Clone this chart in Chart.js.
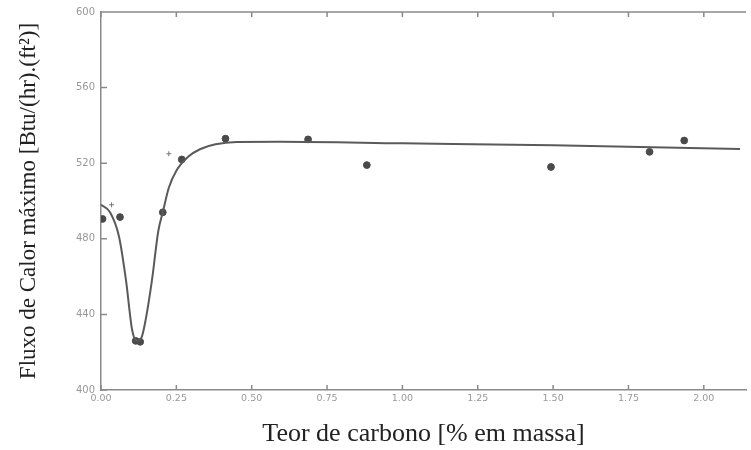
<!DOCTYPE html>
<html>
<head>
<meta charset="utf-8">
<script src="https://cdn.jsdelivr.net/npm/chart.js@4/dist/chart.umd.min.js"></script>
<style>
  html, body { margin: 0; padding: 0; background: #fff; }
  #wrap { width: 751px; height: 450px; }
</style>
</head>
<body>
<div id="wrap"><canvas id="chart" width="751" height="450"></canvas></div>
<script>
// pontos medidos (Teor de carbono, Fluxo de calor)
const pointX = [0.005, 0.063, 0.115, 0.13, 0.205, 0.268, 0.413, 0.687, 0.882, 1.493, 1.82, 1.935];
const pointY = [490.5, 491.5, 426, 425.5, 494, 522, 533, 532.6, 519, 518, 526, 532];

// pontos "+"
const crossX = [0.035, 0.225];
const crossY = [498, 525];

// curva ajustada
const curveX = [0.0, 0.03, 0.06, 0.083, 0.103, 0.119, 0.135, 0.148, 0.169, 0.19, 0.205, 0.225, 0.25, 0.29, 0.33, 0.38, 0.45, 0.6, 1.0, 1.5, 2.12];
const curveY = [498, 494, 481, 458, 432, 426, 428, 437, 458, 484, 494, 507, 516, 523.5, 527.5, 530, 531.2, 531.3, 530.5, 529.5, 527.5];

const xTicks = [0, 0.25, 0.5, 0.75, 1.0, 1.25, 1.5, 1.75, 2.0];
const yTicks = [400, 440, 480, 520, 560, 600];

const axisColor = '#8a8a8a';

// marcas de escala para dentro + borda superior
const innerTicks = {
  id: 'innerTicks',
  afterDraw(chart) {
    const ctx = chart.ctx;
    const x = chart.scales.x, y = chart.scales.y;
    const a = chart.chartArea;
    ctx.save();
    ctx.strokeStyle = axisColor;
    ctx.lineWidth = 1.5;
    ctx.beginPath();
    ctx.moveTo(a.left, a.top);
    ctx.lineTo(a.right, a.top);
    xTicks.forEach(v => {
      const px = x.getPixelForValue(v);
      ctx.moveTo(px, a.bottom);
      ctx.lineTo(px, a.bottom - 5);
      ctx.moveTo(px, a.top);
      ctx.lineTo(px, a.top + 5);
    });
    yTicks.forEach(v => {
      const py = y.getPixelForValue(v);
      ctx.moveTo(a.left, py);
      ctx.lineTo(a.left + 6, py);
    });
    ctx.stroke();
    ctx.restore();
  }
};

new Chart(document.getElementById('chart'), {
  type: 'scatter',
  data: {
    datasets: [
      {
        type: 'line',
        data: curveX.map((v, i) => ({ x: v, y: curveY[i] })),
        borderColor: '#5a5a5a',
        borderWidth: 2,
        pointRadius: 0,
        cubicInterpolationMode: 'monotone',
        fill: false
      },
      {
        data: pointX.map((v, i) => ({ x: v, y: pointY[i] })),
        backgroundColor: '#4a4a4a',
        borderColor: '#4a4a4a',
        pointRadius: 3.4
      },
      {
        data: crossX.map((v, i) => ({ x: v, y: crossY[i] })),
        pointStyle: 'cross',
        borderColor: '#777',
        borderWidth: 1,
        pointRadius: 2.5
      }
    ]
  },
  plugins: [innerTicks],
  options: {
    responsive: false,
    animation: false,
    layout: { padding: { top: 12, right: 1, left: 0, bottom: 0 } },
    plugins: { legend: { display: false }, tooltip: { enabled: false } },
    scales: {
      x: {
        type: 'linear',
        min: 0,
        max: 2.14,
        afterBuildTicks: s => { s.ticks = xTicks.map(v => ({ value: v })); },
        afterFit: s => { s.height = 60; },
        grid: { drawOnChartArea: false, drawTicks: false },
        border: { color: axisColor, width: 1.5 },
        ticks: {
          padding: 3,
          color: '#999',
          font: { family: 'DejaVu Sans', size: 9.5 },
          callback: v => v.toFixed(2)
        },
        title: {
          display: true,
          text: 'Teor de carbono [% em massa]',
          color: '#222',
          font: { family: 'Liberation Serif', size: 26 },
          padding: { top: 8, bottom: 0 }
        }
      },
      y: {
        type: 'linear',
        min: 400,
        max: 600,
        afterBuildTicks: s => { s.ticks = yTicks.map(v => ({ value: v })); },
        afterFit: s => { s.width = 101; },
        grid: { drawOnChartArea: false, drawTicks: false },
        border: { color: axisColor, width: 1.5 },
        ticks: {
          padding: 6,
          color: '#999',
          font: { family: 'DejaVu Sans', size: 10 },
          callback: v => v.toFixed(0)
        },
        title: {
          display: true,
          text: 'Fluxo de Calor máximo [Btu/(hr).(ft²)]',
          color: '#222',
          font: { family: 'Liberation Serif', size: 23 },
          padding: { top: 15, bottom: 0 }
        }
      }
    }
  }
});
</script>
</body>
</html>
